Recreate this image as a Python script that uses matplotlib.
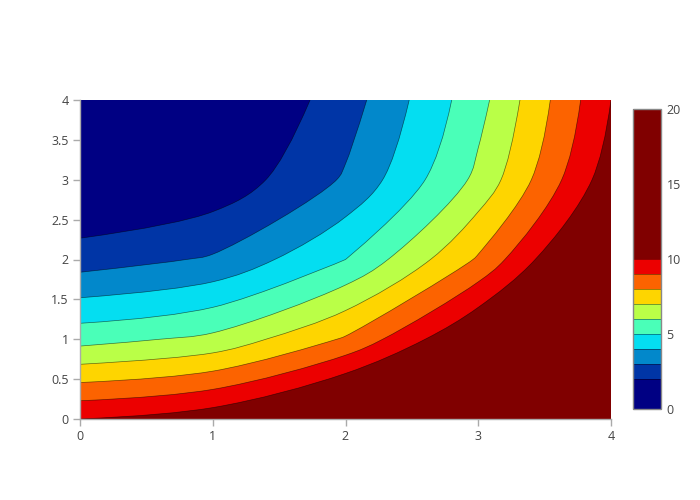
import numpy as np
import matplotlib
matplotlib.use("Agg")
import matplotlib.pyplot as plt
from matplotlib.colors import ListedColormap, BoundaryNorm
from matplotlib.path import Path
from matplotlib.patches import PathPatch
import matplotlib.cm as cm
import contourpy

plt.rcParams['font.family'] = ['Open Sans', 'DejaVu Sans']

x = [0, 1, 2, 3, 4]
y = [0, 1, 2, 3, 4]
z = [
    [10, 10.625, 12.5, 15.625, 20],
    [5.625, 6.25, 8.125, 11.25, 15.625],
    [2.5, 3.125, 5.0, 8.125, 12.5],
    [0.625, 1.25, 3.125, 6.25, 10.625],
    [0, 0.625, 2.5, 5.625, 10],
]
levels = [0, 2, 3, 4, 5, 6, 7, 8, 9, 10, 20]
band_colors = ['#000083', '#0035a6', '#0288cb', '#04def1', '#4affb8',
               '#baff47', '#fed500', '#fc6300', '#ec0000', '#800000']
xticks = [0, 1, 2, 3, 4]
yticks = [0, 0.5, 1, 1.5, 2, 2.5, 3, 3.5, 4]
cbar_ticks = [0, 5, 10, 15, 20]

AX_W, AX_H = 531, 319
SX, SY = AX_W / 4.0, AX_H / 4.0


def tangent(p0, p1, p2, s=1.0):
    d1 = p0 - p1
    d2 = p2 - p1
    d1a = (d1 @ d1) ** 0.25
    d2a = (d2 @ d2) ** 0.25
    num = (d2a * d2a * d1 - d1a * d1a * d2) * s
    den1 = 3 * d2a * (d1a + d2a)
    den2 = 3 * d1a * (d1a + d2a)
    a = p1 + (num / den1 if den1 else 0)
    b = p1 - (num / den2 if den2 else 0)
    return a, b


def smooth_path(pts):
    """Return vertices/codes for a smoothed open line (pixel-space Catmull-Rom)."""
    P = np.column_stack([pts[:, 0] * SX, pts[:, 1] * SY])
    n = len(P)
    if n < 3:
        verts = list(P)
        codes = [Path.MOVETO] + [Path.LINETO] * (n - 1)
    else:
        tans = [tangent(P[i - 1], P[i], P[i + 1]) for i in range(1, n - 1)]
        verts = [P[0], tans[0][0], P[1]]
        codes = [Path.MOVETO, Path.CURVE3, Path.CURVE3]
        for i in range(2, n - 1):
            verts += [tans[i - 2][1], tans[i - 1][0], P[i]]
            codes += [Path.CURVE4] * 3
        verts += [tans[n - 3][1], P[n - 1]]
        codes += [Path.CURVE3] * 2
    verts = np.array(verts)
    verts[:, 0] /= SX
    verts[:, 1] /= SY
    return verts, codes


fig = plt.figure(figsize=(7, 5), dpi=100)
ax = fig.add_axes([80/700, 81/500, AX_W/700, AX_H/500])
ax.set_xlim(0, 4)
ax.set_ylim(0, 4)
ax.set_facecolor(band_colors[0])

X, Y = np.meshgrid(x, y)
Z = np.array(z, dtype=float)
gen = contourpy.contour_generator(X, Y, Z)

line_paths = []
for k, L in enumerate(levels[1:-1]):
    segs = gen.lines(L)
    for seg in segs:
        seg = np.asarray(seg, dtype=float)
        if seg[0, 0] > seg[-1, 0] or (seg[0, 0] == seg[-1, 0] and seg[0, 1] > seg[-1, 1]):
            seg = seg[::-1]
        verts, codes = smooth_path(seg)
        line_paths.append(Path(verts, codes))
        # region z >= L : contour line + perimeter through the high corner (4, 0)
        fv = list(verts)
        fc = list(codes)
        end = seg[-1]
        start = seg[0]
        extra = []
        if end[1] >= 4 - 1e-9:
            extra.append((4, 4))
        extra.append((4, 0))
        if start[0] <= 1e-9:
            extra.append((0, 0))
        for e in extra:
            fv.append(e)
            fc.append(Path.LINETO)
        fv.append(fv[0])
        fc.append(Path.CLOSEPOLY)
        ax.add_patch(PathPatch(Path(np.array(fv), fc), facecolor=band_colors[k + 1],
                               edgecolor='none', linewidth=0, zorder=1))

for p in line_paths:
    ax.add_patch(PathPatch(p, facecolor='none', edgecolor='#000000', linewidth=0.5,
                           alpha=0.55, zorder=2))

ax.set_xticks(xticks)
ax.set_xticklabels([str(t) for t in xticks])
ax.set_yticks(yticks)
ax.set_yticklabels([('%g' % t) for t in yticks])
for s in ['top', 'right']:
    ax.spines[s].set_visible(False)
for s in ['left', 'bottom']:
    ax.spines[s].set_color('#aaaaaa')
    ax.spines[s].set_linewidth(1)
    ax.spines[s].set_zorder(3)
ax.tick_params(axis='both', colors='#aaaaaa', labelcolor='#444444', labelsize=9,
               length=5, width=1, direction='out', pad=3)

cmap = ListedColormap(band_colors)
norm = BoundaryNorm(levels, cmap.N)
cax = fig.add_axes([633/700, 91/500, 28/700, 300/500])
cb = fig.colorbar(cm.ScalarMappable(norm=norm, cmap=cmap), cax=cax,
                  boundaries=levels, spacing='proportional', ticks=cbar_ticks)
cb.minorticks_off()
for lv in levels[1:-1]:
    cax.axhline(lv, color='#000000', linewidth=0.5, alpha=0.55)
cb.outline.set_edgecolor('#888888')
cb.outline.set_linewidth(1)
cax.tick_params(which='both', length=0, labelsize=9, labelcolor='#444444', pad=4)
cax.set_yticklabels([str(t) for t in cbar_ticks])

fig.savefig('out.png', dpi=100)
